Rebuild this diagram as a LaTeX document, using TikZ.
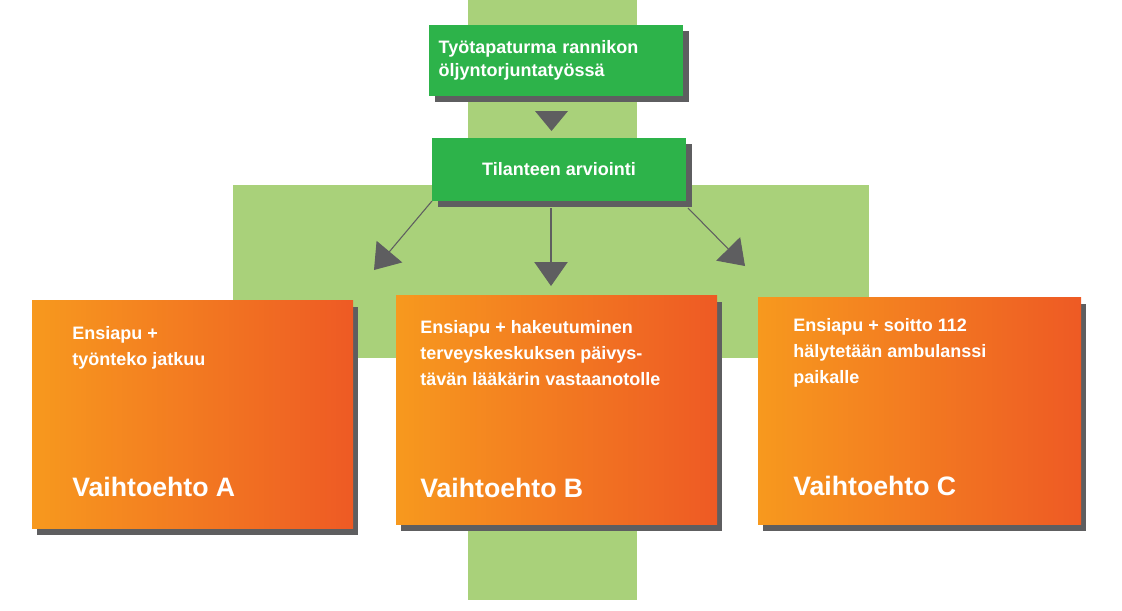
\documentclass[tikz,border=0pt]{standalone}
\usepackage{fontspec}
\setmainfont{Liberation Sans}
\usetikzlibrary{arrows.meta,shadows}
\definecolor{lg}{HTML}{A9D17A}
\definecolor{dg}{HTML}{2DB34A}
\definecolor{sh}{HTML}{5E5E60}
\definecolor{o1}{HTML}{F7991E}
\definecolor{o2}{HTML}{EE5A24}
\begin{document}
\begin{tikzpicture}[x=0.75pt,y=-0.75pt,
  gbox/.style={fill=dg,text=white,font=\bfseries\fontsize{13.5}{17}\selectfont,align=left,inner sep=0pt,
    drop shadow={shadow xshift=4.5pt,shadow yshift=-4.5pt,fill=sh,opacity=1}},
  obox/.style={left color=o1,right color=o2,inner sep=0pt,
    drop shadow={shadow xshift=4pt,shadow yshift=-5pt,fill=sh,opacity=1}},
  otxt/.style={text=white,font=\bfseries\fontsize{13.5}{19.5}\selectfont,align=left,anchor=north west,inner sep=0pt},
  vtxt/.style={text=white,font=\bfseries\fontsize{20}{24}\selectfont,anchor=west,inner sep=0pt},
  conn/.style={draw=sh,line width=0.8pt,-{Triangle[width=25pt,length=18pt]}}]
\useasboundingbox (0,0) rectangle (1122,611);
\fill[lg] (468,0) rectangle (637,600);
\fill[lg] (233,185) rectangle (869,358);
\node[gbox,minimum width=190.5pt,minimum height=53pt,text width=176pt] (t) at (556,60.5) {Työtapaturma rannikon\\öljyntorjuntatyössä};
\node[gbox,minimum width=190.5pt,minimum height=47pt,align=center] (a) at (559,169.5) {Tilanteen arviointi};
\fill[sh] (535,111) -- (568,111) -- (551.5,131) -- cycle;
\node[obox,minimum width=240.75pt,minimum height=171pt] (A) at (192.5,414) {};
\node[obox,minimum width=240.75pt,minimum height=171.75pt] (B) at (556.5,409.5) {};
\node[obox,minimum width=242.25pt,minimum height=170.25pt] (C) at (919.5,410.5) {};
\coordinate (a1) at (432,201);
\coordinate (a2) at (551,208);
\coordinate (a3) at (688,208);
\coordinate (e1) at (374,270);
\coordinate (e2) at (551,286);
\coordinate (e3) at (745,266);
\draw[conn] (a1) -- (e1);
\draw[conn] (a2) -- (e2);
\draw[conn] (a3) -- (e3);
\node[otxt] at (72,326) {Ensiapu +\\työnteko jatkuu};
\node[otxt] at (420,320) {Ensiapu + hakeutuminen\\terveyskeskuksen päivys-\\tävän lääkärin vastaanotolle};
\node[otxt] at (793,318) {Ensiapu + soitto 112\\hälytetään ambulanssi\\paikalle};
\node[vtxt] at (72,487) {Vaihtoehto A};
\node[vtxt] at (420,488) {Vaihtoehto B};
\node[vtxt] at (793,486) {Vaihtoehto C};
\end{tikzpicture}
\end{document}
